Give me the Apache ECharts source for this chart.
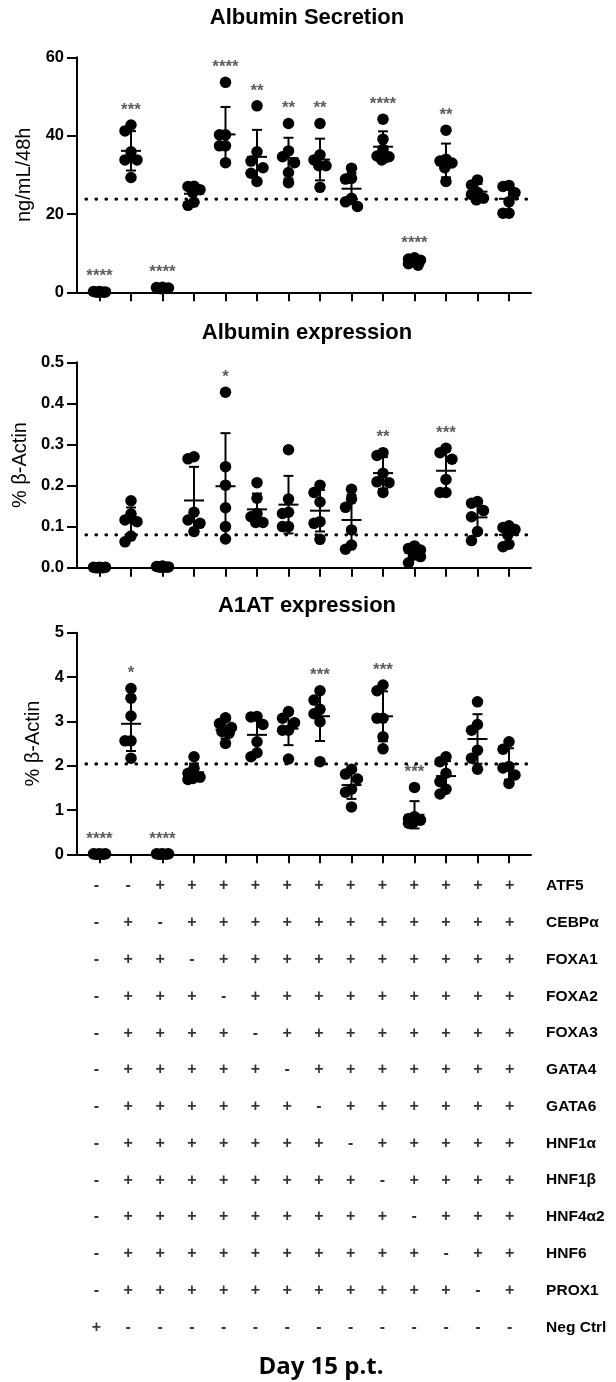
<!DOCTYPE html>
<html><head><meta charset="utf-8">
<script src="https://cdn.jsdelivr.net/npm/echarts@6/dist/echarts.min.js"></script>
<style>html,body{margin:0;padding:0;background:#fff}#c{width:616px;height:1382px}</style>
</head><body><div id="c"></div>
<script>
// ---------- DATA ----------
const conditions = [0,1,2,3,4,5,6,7,8,9,10,11,12,13];

const albuminSecretion = [
  [0.2,0.1,0.0,0.1,0.2,0.0],
  [42.7,41.2,35.9,33.8,33.8,29.3],
  [1.3,1.1,1.0,1.2,0.9,1.0],
  [27.1,27.0,26.2,25.5,23.0,22.2],
  [53.6,40.2,40.2,37.4,37.4,33.1],
  [47.6,35.9,33.5,31.8,30.4,28.3],
  [43.1,36.1,34.6,33.1,30.6,28.0],
  [43.1,35.1,33.8,32.3,32.3,26.8],
  [31.7,28.9,29.1,24.0,23.1,21.9],
  [44.2,39.1,36.5,34.8,34.6,33.8],
  [8.8,8.5,8.2,7.8,7.3,6.9],
  [41.4,34.0,33.5,33.0,31.8,28.3],
  [28.7,27.4,25.5,25.0,24.0,23.6],
  [27.3,27.0,25.4,23.1,20.2,20.2]
];
const albuminExpression = [
  [0.001,0.001,0.000,0.000,0.001,0.000],
  [0.163,0.131,0.116,0.112,0.077,0.063],
  [0.004,0.003,0.002,0.002,0.001,0.001],
  [0.270,0.265,0.135,0.116,0.108,0.088],
  [0.427,0.246,0.201,0.146,0.100,0.070],
  [0.207,0.169,0.132,0.124,0.110,0.110],
  [0.287,0.167,0.135,0.132,0.100,0.100],
  [0.201,0.183,0.160,0.112,0.108,0.069],
  [0.191,0.167,0.147,0.092,0.055,0.045],
  [0.280,0.273,0.230,0.209,0.207,0.183],
  [0.053,0.047,0.043,0.031,0.027,0.012],
  [0.291,0.280,0.264,0.215,0.183,0.183],
  [0.161,0.157,0.139,0.124,0.088,0.066],
  [0.102,0.098,0.093,0.080,0.057,0.051]
];
const a1atExpression = [
  [0.01,0.01,0.00,0.00,0.01,0.00],
  [3.74,3.52,3.12,2.56,2.56,2.17],
  [0.01,0.01,0.00,0.00,0.01,0.00],
  [2.20,1.94,1.83,1.74,1.71,1.69],
  [3.08,2.95,2.86,2.77,2.73,2.50],
  [3.11,3.10,2.93,2.54,2.29,2.20],
  [3.22,3.07,2.97,2.80,2.80,2.15],
  [3.69,3.48,3.27,3.17,2.99,2.09],
  [1.92,1.81,1.70,1.47,1.40,1.07],
  [3.82,3.69,3.07,3.07,2.65,2.38],
  [1.51,0.85,0.80,0.77,0.72,0.70],
  [2.20,2.09,1.83,1.64,1.47,1.36],
  [3.44,2.93,2.80,2.35,2.17,1.92],
  [2.54,2.37,1.98,1.95,1.79,1.60]
];

const secretionStars  = ['****','***','****','','****','**','**','**','','****','****','**','',''];
const expressionStars = ['','','','','*','','','','','**','','***','',''];
const a1atStars       = ['****','*','****','','','','','***','','***','***','','',''];

const referenceLevels = [23.8, 0.080, 2.04];

const panelTitles = ['Albumin Secretion','Albumin expression','A1AT expression'];
const axisNames   = ['ng/mL/48h','% \u03b2-Actin','% \u03b2-Actin'];
const yTicks = [[0,20,40,60],[0,0.1,0.2,0.3,0.4,0.5],[0,1,2,3,4,5]];

const factors = ['ATF5','CEBP\u03b1','FOXA1','FOXA2','FOXA3','GATA4','GATA6','HNF1\u03b1','HNF1\u03b2','HNF4\u03b12','HNF6','PROX1','Neg Ctrl'];
const factorSigns = [
  '--++++++++++++',
  '-+-+++++++++++',
  '-++-++++++++++',
  '-+++-+++++++++',
  '-++++-++++++++',
  '-+++++-+++++++',
  '-++++++-++++++',
  '-+++++++-+++++',
  '-++++++++-++++',
  '-+++++++++-+++',
  '-++++++++++-++',
  '-+++++++++++-+',
  '+-------------'
];
const footerText = 'Day 15 p.t.';

// ---------- LAYOUT ----------
const FONT = "'Liberation Sans', Arial, sans-serif";
const AX_L = 77, AX_R = 531, C0 = 99.5, STEP = 31.5;
const xMin = (AX_L - C0) / STEP, xMax = (AX_R - C0) / STEP;
const panelBoxes = [
  {top: 57.3, bottom: 292.3, nameGap: 40, titleTop: 2},
  {top: 362.3, bottom: 567.7, nameGap: 45, titleTop: 317},
  {top: 632.7, bottom: 854.3, nameGap: 28, titleTop: 590}
];
const panelData = [albuminSecretion, albuminExpression, a1atExpression];
const panelStars = [secretionStars, expressionStars, a1atStars];

function mean(a){return a.reduce((s,v)=>s+v,0)/a.length;}
function sd(a){const m=mean(a);return Math.sqrt(a.reduce((s,v)=>s+(v-m)*(v-m),0)/(a.length-1));}

// simple beeswarm jitter (pixel offsets)
function swarm(vals, pxPerUnit){
  const order = vals.map((v,i)=>i).sort((a,b)=>vals[b]-vals[a]);
  const placed = [], off = new Array(vals.length);
  const T = 9.5, cands = [0,-6,6];
  for (const i of order){
    const y = vals[i]*pxPerUnit;
    const dist = x => placed.reduce((m,p)=>Math.min(m,Math.hypot(p.x-x,p.y-y)),Infinity);
    let chosen = null;
    for (const c of cands){ if (dist(c) >= T){ chosen = c; break; } }
    if (chosen === null){
      let best = -1;
      for (let c=-6; c<=6.01; c+=2.4){ const d = dist(c); if (d > best + 1e-6){ best = d; chosen = c; } }
    }
    off[i] = chosen; placed.push({x: chosen, y});
  }
  return off;
}

const grids = [], xAxes = [], yAxes = [], series = [], titles = [];

panelData.forEach((data, p) => {
  const box = panelBoxes[p];
  const ticks = yTicks[p];
  const yMax = ticks[ticks.length-1];
  const pxPerUnit = (box.bottom - box.top) / yMax;
  grids.push({left: AX_L, width: AX_R-AX_L, top: box.top, height: box.bottom-box.top});
  xAxes.push({
    type:'value', gridIndex:p, min:xMin, max:xMax,
    axisLine:{show:true,onZero:false,lineStyle:{color:'#000',width:2}},
    axisTick:{show:true,customValues:conditions,length:9,lineStyle:{color:'#000',width:2}},
    axisLabel:{show:false}, splitLine:{show:false}
  });
  yAxes.push({
    type:'value', gridIndex:p, min:0, max:yMax, interval:ticks[1],
    name: axisNames[p], nameLocation:'middle', nameRotate:90, nameGap: box.nameGap,
    nameTextStyle:{fontFamily:FONT,fontSize:20,color:'#000'},
    axisLine:{show:true,onZero:false,lineStyle:{color:'#000',width:2}},
    axisTick:{show:true,length:10,lineStyle:{color:'#000',width:2}},
    axisLabel:{fontFamily:FONT,fontSize:16.5,fontWeight:'bold',color:'#000',margin:13,
      formatter: v => p===1 ? v.toFixed(1) : String(v)},
    splitLine:{show:false}
  });
  titles.push({text: panelTitles[p], left: 302, top: box.titleTop, textAlign:'center',
    textStyle:{fontFamily:FONT,fontSize:22,fontWeight:'bold',color:'#000'}});

  // dots
  const dots = [];
  data.forEach((vals, i) => {
    const off = swarm(vals, pxPerUnit);
    vals.forEach((v, k) => dots.push([i + off[k]/STEP, v]));
  });
  series.push({type:'scatter', xAxisIndex:p, yAxisIndex:p, data:dots, symbolSize:11.5,
    itemStyle:{color:'#000',opacity:1}, z:3, silent:true});

  // mean ± SD
  const stats = data.map((vals,i)=>[i, mean(vals), sd(vals)]);
  series.push({type:'custom', xAxisIndex:p, yAxisIndex:p, data:stats, z:4, silent:true,
    renderItem:(params, api) => {
      const x = api.value(0), m = api.value(1), s = api.value(2);
      const pm = api.coord([x, m]), pt = api.coord([x, m+s]), pb = api.coord([x, Math.max(0,m-s)]);
      const st = {stroke:'#000', lineWidth:2};
      return {type:'group', children:[
        {type:'line', shape:{x1:pm[0],y1:pt[1],x2:pm[0],y2:pb[1]}, style:st},
        {type:'line', shape:{x1:pm[0]-10,y1:pm[1],x2:pm[0]+10,y2:pm[1]}, style:st},
        {type:'line', shape:{x1:pm[0]-5,y1:pt[1],x2:pm[0]+5,y2:pt[1]}, style:st},
        {type:'line', shape:{x1:pm[0]-5,y1:pb[1],x2:pm[0]+5,y2:pb[1]}, style:st}
      ]};
    }});

  // reference dotted line
  series.push({type:'line', xAxisIndex:p, yAxisIndex:p, symbol:'none', silent:true, z:2,
    data:[[(86-C0)/STEP, referenceLevels[p]], [(530-C0)/STEP, referenceLevels[p]]],
    lineStyle:{color:'#000', width:3.2, type:[0.5,9.5], cap:'round'}});

  // significance stars
  const starData = [];
  panelStars[p].forEach((t,i)=>{ if(t) starData.push([i, Math.max(...data[i]), t]); });
  series.push({type:'scatter', xAxisIndex:p, yAxisIndex:p, data:starData, symbolSize:1,
    itemStyle:{color:'rgba(0,0,0,0)'}, silent:true, z:5,
    label:{show:true, position:'top', distance:6, formatter:q=>q.value[2],
      fontFamily:FONT, fontSize:17, fontWeight:'bold', color:'#333'}});
});

// table grid
const T = 3;
grids.push({left:96.5, width:413.1, top:886, height:441.3});
xAxes.push({type:'value', gridIndex:T, min:0, max:13, show:false});
yAxes.push({type:'category', gridIndex:T, data:factors, inverse:true, boundaryGap:false, position:'right',
  axisLine:{show:false}, axisTick:{show:false}, splitLine:{show:false},
  axisLabel:{fontFamily:FONT,fontSize:15.5,fontWeight:'bold',color:'#000',margin:36.5,align:'left'}});
const signData = [];
factorSigns.forEach((row,r)=>{ row.split('').forEach((ch,c)=>signData.push([c, factors[r], ch])); });
series.push({type:'scatter', xAxisIndex:T, yAxisIndex:T, data:signData, symbolSize:1,
  itemStyle:{color:'rgba(0,0,0,0)'}, silent:true,
  label:{show:true, position:'inside', formatter:q=>q.value[2], fontFamily:FONT, fontSize:16, fontWeight:'bold', color:'#000'}});

titles.push({text: footerText, left: 316, top: 1350, textAlign:'center',
  textStyle:{fontFamily:"'Open Sans', sans-serif", fontSize:24, fontWeight:'bold', color:'#000'}});

const chart = echarts.init(document.getElementById('c'), null, {renderer:'canvas'});
chart.setOption({animation:false, backgroundColor:'#fff', title:titles, grid:grids, xAxis:xAxes, yAxis:yAxes, series});
</script></body></html>
